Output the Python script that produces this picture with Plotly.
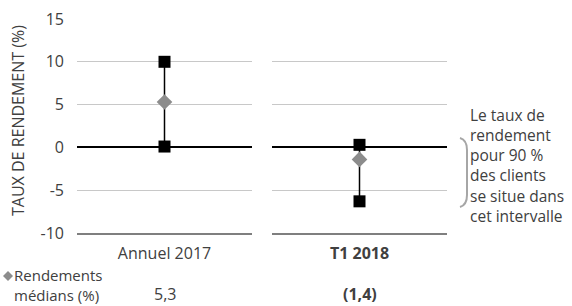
import plotly.graph_objects as go

categories = ["Annuel 2017", "T1 2018"]
bold_flags = [False, True]
high_values = [10.0, 0.3]
low_values = [0.1, -6.3]
median_values = [5.3, -1.4]
y_ticks = [-10, -5, 0, 5, 10, 15]
y_tick_text = ["-10", "-5", "0", "5", "10", "15"]
y_title = "TAUX DE RENDEMENT (%)"
median_label_lines = ["Rendements", "médians (%)"]
note_lines = ["Le taux de", "rendement", "pour 90 %", "des clients", "se situe dans", "cet intervalle"]

W, H = 572, 306
ML, MR, MT, MB = 77, 125, 19, 73
PW = W - ML - MR
PH = H - MT - MB
FONT = "Open Sans"
TXT = "#404040"


def fmt(v):
    s = f"{abs(v):.1f}".replace(".", ",")
    return f"({s})" if v < 0 else s


def px_x(p):
    return (p - ML) / PW


def px_y(p):
    return (H - MB - p) / PH


fig = go.Figure()
axes = ["x", "x2"]
for i, cat in enumerate(categories):
    xa = axes[i]
    fig.add_trace(go.Scatter(
        x=[cat, cat], y=[low_values[i], high_values[i]], xaxis=xa, yaxis="y",
        mode="lines+markers", line=dict(color="black", width=1.5),
        marker=dict(symbol="square", size=12, color="black"),
        showlegend=False, hoverinfo="skip", cliponaxis=False))
    fig.add_trace(go.Scatter(
        x=[cat], y=[median_values[i]], xaxis=xa, yaxis="y",
        mode="markers", marker=dict(symbol="diamond", size=12, color="#8c8c8c"),
        showlegend=False, hoverinfo="skip", cliponaxis=False))

d1 = px_x(252)
d2 = px_x(272)
xcommon = dict(showgrid=False, zeroline=False, showline=True, linecolor="#7f7f7f",
               linewidth=2, ticks="", type="category", automargin=False,
               ticklabelstandoff=5,
               tickfont=dict(family=FONT, size=16, color=TXT), fixedrange=True)
ticktext = [f"<b>{c}</b>" if b else c for c, b in zip(categories, bold_flags)]
fig.update_layout(
    width=W, height=H, margin=dict(l=ML, r=MR, t=MT, b=MB),
    paper_bgcolor="white", plot_bgcolor="white",
    font=dict(family=FONT, size=16, color=TXT),
    xaxis=dict(domain=[0, d1], anchor="y", tickvals=[categories[0]], ticktext=[ticktext[0]], **xcommon),
    xaxis2=dict(domain=[d2, 1], anchor="y", tickvals=[categories[1]], ticktext=[ticktext[1]], **xcommon),
    yaxis=dict(range=[-10, 15], tickvals=y_ticks, ticktext=y_tick_text,
               showgrid=True, gridcolor="#c8c8c8", gridwidth=1,
               zeroline=True, zerolinecolor="black", zerolinewidth=2, showline=False,
               ticks="", ticklabelstandoff=12, automargin=False,
               tickfont=dict(family=FONT, size=16, color=TXT), fixedrange=True),
)

ann = []
ann.append(dict(text=y_title, textangle=-90, xref="paper", yref="paper",
                x=px_x(18), y=px_y(121), showarrow=False, xanchor="center", yanchor="middle",
                font=dict(family=FONT, size=16, color=TXT)))
ann.append(dict(text="<br>".join(median_label_lines), xref="paper", yref="paper", align="left",
                x=px_x(12), y=px_y(285), xanchor="left", yanchor="middle",
                showarrow=False, font=dict(family=FONT, size=15, color=TXT)))
for i, cat in enumerate(categories):
    t = fmt(median_values[i])
    if bold_flags[i]:
        t = f"<b>{t}</b>"
    ann.append(dict(text=t, xref=axes[i], yref="paper", x=cat, y=px_y(294),
                    xanchor="center", yanchor="middle", showarrow=False,
                    font=dict(family=FONT, size=16, color=TXT)))
ann.append(dict(text="<br>".join(note_lines), xref="paper", yref="paper", align="left",
                x=px_x(468), y=px_y(165), xanchor="left", yanchor="middle",
                showarrow=False, font=dict(family=FONT, size=15.5, color=TXT)))
fig.update_layout(annotations=ann)

# legend diamond icon
cx, cy, r = 8, 276, 5
fig.add_shape(type="path", xref="paper", yref="paper",
              path=(f"M {px_x(cx)} {px_y(cy - r)} L {px_x(cx + r)} {px_y(cy)} "
                    f"L {px_x(cx)} {px_y(cy + r)} L {px_x(cx - r)} {px_y(cy)} Z"),
              fillcolor="#8c8c8c", line=dict(width=0))

fig.add_shape(type="path", xref="paper", yref="paper",
              path=(f"M {px_x(460)} {px_y(138)} Q {px_x(467)} {px_y(140)} {px_x(467)} {px_y(150)} "
                    f"L {px_x(467)} {px_y(195)} Q {px_x(467)} {px_y(205)} {px_x(460)} {px_y(207)}"),
              line=dict(color="#a6a6a6", width=2))

fig.write_html("out.html", config={"displayModeBar": False},
               post_script="document.body.style.margin='0';document.body.style.overflow='hidden';")
